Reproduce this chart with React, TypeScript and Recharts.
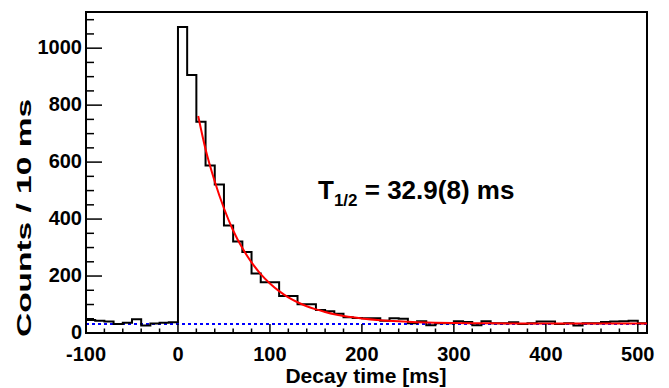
import React from "react";
import { ComposedChart, Line, XAxis, YAxis, ReferenceLine, ReferenceArea } from "recharts";

// 10 ms bins, left edges
const binStart = [
  -100, -90, -80, -70, -60, -50, -40, -30, -20, -10,
  0, 10, 20, 30, 40, 50, 60, 70, 80, 90,
  100, 110, 120, 130, 140, 150, 160, 170, 180, 190,
  200, 210, 220, 230, 240, 250, 260, 270, 280, 290,
  300, 310, 320, 330, 340, 350, 360, 370, 380, 390,
  400, 410, 420, 430, 440, 450, 460, 470, 480, 490,
  500,
];
const counts = [
  46, 43, 40, 32, 36, 48, 26, 33, 36, 38,
  1074, 906, 742, 588, 521, 377, 321, 284, 209, 178,
  178, 130, 130, 101, 101, 81, 76, 68, 55, 53,
  52, 52, 43, 52, 50, 34, 41, 27, 34, 34,
  41, 39, 27, 41, 34, 34, 38, 32, 34, 40,
  40, 32, 34, 26, 34, 34, 39, 40, 41, 43,
  34,
];
const histEnd = 510;

// fitted decay curve
const fitTime = [22, 30, 40, 50, 60, 70, 80, 90, 100, 110, 120, 130, 140, 150, 160, 170, 180, 190, 200, 220, 240, 260, 280, 300, 340, 400, 460, 510];
const fitCounts = [762, 645, 532, 438, 360, 298, 248, 207, 174, 147, 125, 108, 94, 83, 74, 66, 60, 55, 51, 45, 41, 38, 36, 35, 34, 33, 33, 33];

const background = 32;

const xTicks = [-100, -80, -60, -40, -20, 0, 20, 40, 60, 80, 100, 120, 140, 160, 180, 200, 220, 240, 260, 280, 300, 320, 340, 360, 380, 400, 420, 440, 460, 480, 500];
const yTicks = [0, 50, 100, 150, 200, 250, 300, 350, 400, 450, 500, 550, 600, 650, 700, 750, 800, 850, 900, 950, 1000, 1050, 1100];

const histData = [
  ...binStart.map((t, i) => ({ t, c: counts[i] })),
  { t: histEnd, c: counts[counts.length - 1] },
];
const fitData = fitTime.map((t, i) => ({ t, f: fitCounts[i] }));

const font = "'Liberation Sans', Arial, Helvetica, sans-serif";

const XTick = (props: any) => {
  const { x, y, payload } = props;
  const major = payload.value % 100 === 0;
  return (
    <g>
      <line x1={x} x2={x} y1={y} y2={y - (major ? 9 : 4.5)} stroke="#000" strokeWidth={1.5} />
      {major && (
        <text x={x} y={y + 28} textAnchor="middle" fontFamily={font} fontWeight="bold" fontSize={20} fill="#000">
          {payload.value}
        </text>
      )}
    </g>
  );
};

const YTick = (props: any) => {
  const { x, y, payload } = props;
  const major = payload.value % 200 === 0;
  return (
    <g>
      <line x1={x} x2={x + (major ? 16 : 8)} y1={y} y2={y} stroke="#000" strokeWidth={1.5} />
      {major && (
        <text x={x - 4} y={y + 6} textAnchor="end" fontFamily={font} fontWeight="bold" fontSize={20} fill="#000">
          {payload.value}
        </text>
      )}
    </g>
  );
};

export default function App() {
  return (
    <div style={{ position: "absolute", left: 0, top: 0, width: 669, height: 388, background: "#fff" }}>
      <ComposedChart width={669} height={388} margin={{ top: 12, right: 22, bottom: 0, left: 0 }}>
        <XAxis
          dataKey="t"
          type="number"
          domain={[-100, 510]}
          ticks={xTicks}
          interval={0}
          tickSize={0}
          tickMargin={0}
          tickLine={false}
          tick={<XTick />}
          height={55}
          axisLine={{ stroke: "#000", strokeWidth: 2 }}
          allowDataOverflow
          label={{
            content: () => (
              <text x={366} y={383} textAnchor="middle" fontFamily={font} fontWeight="bold" fontSize={21} fill="#000">
                Decay time [ms]
              </text>
            ),
          }}
        />
        <YAxis
          type="number"
          domain={[0, 1127]}
          ticks={yTicks}
          interval={0}
          tickSize={0}
          tickMargin={0}
          tickLine={false}
          tick={<YTick />}
          width={86}
          axisLine={{ stroke: "#000", strokeWidth: 2 }}
          allowDataOverflow
          label={{
            content: () => (
              <text
                x={31}
                y={218}
                transform="rotate(-90, 31, 218)"
                textAnchor="middle"
                fontFamily={font}
                fontWeight="bold"
                fontSize={20}
                fill="#000"
                textLength={238}
                lengthAdjust="spacingAndGlyphs"
              >
                Counts / 10 ms
              </text>
            ),
          }}
        />
        <ReferenceLine y={background} stroke="#0000ff" strokeWidth={2} strokeDasharray="3 3" />
        <Line
          data={histData}
          dataKey="c"
          type="stepAfter"
          stroke="#000"
          strokeWidth={2}
          dot={false}
          activeDot={false}
          isAnimationActive={false}
        />
        <Line
          data={fitData}
          dataKey="f"
          type="monotone"
          stroke="#ff0000"
          strokeWidth={2}
          dot={false}
          activeDot={false}
          isAnimationActive={false}
        />
        <ReferenceArea x1={-100} x2={510} y1={0} y2={1127} fill="none" stroke="#000" strokeWidth={2} />
      </ComposedChart>
      <svg width={669} height={388} style={{ position: "absolute", left: 0, top: 0, pointerEvents: "none" }}>
        <text x={318} y={199} fontFamily={font} fontWeight="bold" fontSize={26} fill="#000">
          T
          <tspan fontSize={17} dy={7}>1/2</tspan>
          <tspan dy={-7}> = 32.9(8) ms</tspan>
        </text>
      </svg>
    </div>
  );
}
